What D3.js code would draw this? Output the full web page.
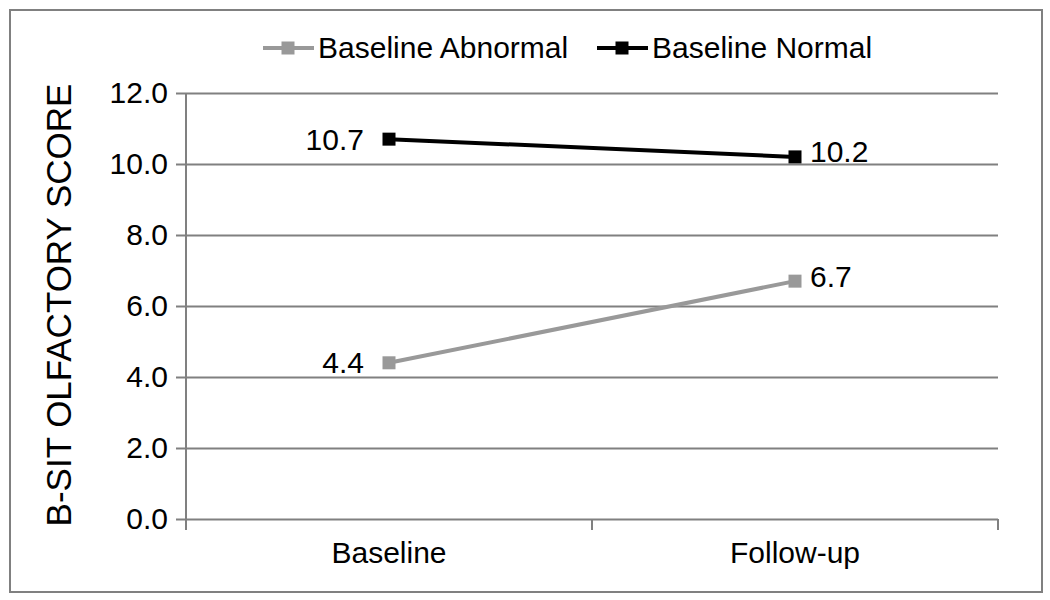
<!DOCTYPE html>
<html>
<head>
<meta charset="utf-8">
<script src="https://cdn.jsdelivr.net/npm/d3@7"></script>
<style>
  html, body { margin: 0; padding: 0; background: #fff; }
  svg { display: block; font-family: "Liberation Sans", Arial, sans-serif; }
</style>
</head>
<body>
<svg id="chart" width="1050" height="600"></svg>
<script>
const categories = ["Baseline", "Follow-up"];
const seriesNames = ["Baseline Abnormal", "Baseline Normal"];
const abnormalValues = [4.4, 6.7];
const normalValues = [10.7, 10.2];
const yTickValues = [0, 2, 4, 6, 8, 10, 12];
const yAxisTitle = "B-SIT OLFACTORY SCORE";

const seriesColors = ["#999999", "#000000"];
const series = [
  { name: seriesNames[0], values: abnormalValues, color: seriesColors[0] },
  { name: seriesNames[1], values: normalValues, color: seriesColors[1] }
];

const svg = d3.select("#chart");
const W = 1050, H = 600;
const plot = { left: 186, right: 998, top: 93, bottom: 519 };
const gridColor = "#808080";

// outer border
svg.append("rect").attr("x", 10).attr("y", 10).attr("width", 1032).attr("height", 582)
  .attr("fill", "#fff").attr("stroke", gridColor).attr("stroke-width", 2);

const x = d3.scaleBand().domain(categories).range([plot.left, plot.right]);
const y = d3.scaleLinear().domain([0, 12]).range([plot.bottom, plot.top]);

// Gridlines + y ticks
const yAxis = d3.axisLeft(y).tickValues(yTickValues)
  .tickSize(-(plot.right - plot.left)).tickPadding(18)
  .tickFormat(d3.format(".1f"));
const gy = svg.append("g").attr("transform", `translate(${plot.left},0)`).call(yAxis);
gy.select(".domain").remove();
gy.selectAll(".tick line").attr("stroke", gridColor).attr("stroke-width", 2)
  .attr("x1", -10);
gy.selectAll(".tick text").attr("font-size", 30).attr("fill", "#000")
  .attr("font-family", "Liberation Sans, Arial, sans-serif");

// vertical axis line
svg.append("line").attr("x1", plot.left).attr("x2", plot.left)
  .attr("y1", plot.top).attr("y2", plot.bottom + 11)
  .attr("stroke", gridColor).attr("stroke-width", 2);

// x axis ticks at band boundaries
const boundaries = [plot.left].concat(categories.map(c => x(c) + x.bandwidth()));
svg.append("g").selectAll("line").data(boundaries).join("line")
  .attr("x1", d => d).attr("x2", d => d)
  .attr("y1", plot.bottom).attr("y2", plot.bottom + 11)
  .attr("stroke", gridColor).attr("stroke-width", 2);

// x category labels
svg.append("g").selectAll("text").data(categories).join("text")
  .attr("x", d => x(d) + x.bandwidth() / 2)
  .attr("y", 563)
  .attr("text-anchor", "middle")
  .attr("font-size", 30)
  .text(d => d);

// y axis title
svg.append("text")
  .attr("transform", `translate(71,305) rotate(-90)`)
  .attr("text-anchor", "middle")
  .attr("font-size", 35)
  .text(yAxisTitle);

const cx = c => x(c) + x.bandwidth() / 2;
const line = d3.line().x((d, i) => cx(categories[i])).y(d => y(d));

series.forEach(s => {
  svg.append("path").datum(s.values)
    .attr("d", line).attr("fill", "none")
    .attr("stroke", s.color).attr("stroke-width", 4);
  svg.append("g").selectAll("rect").data(s.values).join("rect")
    .attr("x", (d, i) => cx(categories[i]) - 6.5)
    .attr("y", d => y(d) - 6.5)
    .attr("width", 13).attr("height", 13)
    .attr("fill", s.color);
  svg.append("g").selectAll("text").data(s.values).join("text")
    .attr("x", (d, i) => i === 0 ? cx(categories[i]) - 25 : cx(categories[i]) + 15)
    .attr("y", (d, i) => y(d) + (i === 0 ? 0 : -5))
    .attr("dy", "0.35em")
    .attr("text-anchor", (d, i) => i === 0 ? "end" : "start")
    .attr("font-size", 30)
    .text(d => d3.format(".1f")(d));
});

// legend
const legendItems = [
  { s: series[0], x0: 263 },
  { s: series[1], x0: 597 }
];
legendItems.forEach(li => {
  const g = svg.append("g");
  g.append("line").attr("x1", li.x0).attr("x2", li.x0 + 51)
    .attr("y1", 48).attr("y2", 48)
    .attr("stroke", li.s.color).attr("stroke-width", 4);
  g.append("rect").attr("x", li.x0 + 25 - 6.5).attr("y", 48 - 6.5)
    .attr("width", 13).attr("height", 13).attr("fill", li.s.color);
  g.append("text").attr("x", li.x0 + 55).attr("y", 58)
    .attr("font-size", 30).text(li.s.name);
});
</script>
</body>
</html>
